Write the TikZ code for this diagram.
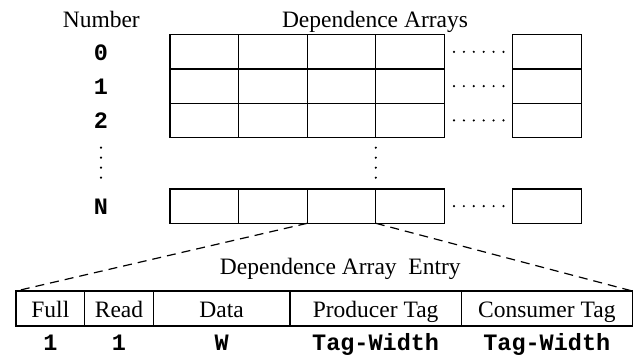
\documentclass[tikz,border=0pt]{standalone}
\usepackage{fontspec}
\setmainfont{Liberation Serif}
\setmonofont{Liberation Mono}
\begin{document}
\begin{tikzpicture}[x=0.5pt,y=-0.5pt,
  cell/.style={draw,line width=0.6pt,minimum width=34.3pt,minimum height=17.15pt,inner sep=0pt,outer sep=0pt},
  fld/.style={draw,line width=0.6pt,minimum height=17.5pt,inner sep=0pt,outer sep=0pt,
    text height=10pt,text depth=1.2pt,font=\fontsize{11.75pt}{14pt}\selectfont},
  lbl/.style={font=\fontsize{11.75pt}{14pt}\selectfont,inner sep=0pt,anchor=base},
  num/.style={font=\fontsize{11.75pt}{14pt}\selectfont\ttfamily\bfseries,inner sep=0pt,anchor=base},
  dotmark/.style={circle,fill,inner sep=0pt,minimum size=1.2pt},
  zoomline/.style={line width=0.6pt,dash pattern=on 4.5pt off 3pt}]
\useasboundingbox (0,0) rectangle (634,358);
% grid
\foreach \r/\y in {0/51.85,1/86.15,2/120.45,N/206.15} {
  \foreach \c/\x in {1/204.3,2/272.9,3/341.5,4/410.1,5/547.1}
    \node[cell] (c\r\c) at (\x,\y) {};
  \foreach \k in {0,...,5}
    \node[dotmark] (h\r\k) at (454+\k*9.9,\y) {};
}
\foreach \k in {0,...,3} {
  \node[dotmark] (vl\k) at (101,147.7+\k*10) {};
  \node[dotmark] (vm\k) at (375.8,147.7+\k*10) {};
}
% headings
\node[lbl] (number) at (101.3,27.3) {Number};
\node[lbl] (arrays) at (375,27.3) {Dependence Arrays};
\node[num] (n0) at (101,61) {0};
\node[num] (n1) at (101,95) {1};
\node[num] (n2) at (101,129) {2};
\node[num] (nN) at (101,215) {N};
% entry
\node[lbl] (entry) at (340.3,275) {Dependence Array\ \ Entry};
\node[fld,minimum width=34.35pt] (full) at (50.35,308.5) {Full};
\node[fld,minimum width=34.3pt] (read) at (119,308.5) {Read};
\node[fld,minimum width=68.35pt] (data) at (221.65,308.5) {Data};
\node[fld,minimum width=85.65pt] (prod) at (375.65,308.5) {Producer Tag};
\node[fld,minimum width=85.5pt] (cons) at (546.8,308.5) {Consumer Tag};
\node[num] (wfull) at (50.35,350.7) {1};
\node[num] (wread) at (119,350.7) {1};
\node[num] (wdata) at (221.65,350.7) {W};
\node[num] (wprod) at (375.65,350.7) {Tag-Width};
\node[num] (wcons) at (546.8,350.7) {Tag-Width};
% zoom lines
\draw[zoomline] (cN3.south west) -- (full.north west);
\draw[zoomline] (cN3.south east) -- (cons.north east);
\end{tikzpicture}
\end{document}
